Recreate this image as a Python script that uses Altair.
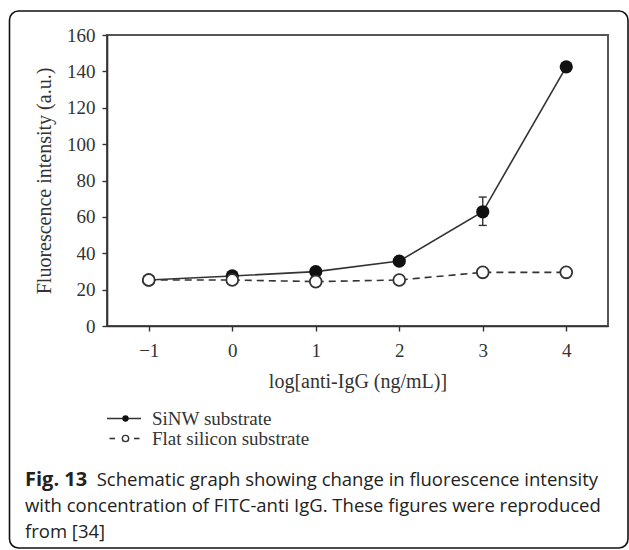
import altair as alt
import pandas as pd

# ---- data ----
x_vals = [-1, 0, 1, 2, 3, 4]
sinw_vals = [25.3, 27.5, 29.9, 35.7, 62.8, 142.5]
flat_vals = [25.3, 25.3, 24.4, 25.3, 29.5, 29.5]
err_x = [3]
err_low = [55.3]
err_high = [70.9]
y_ticks = [0, 20, 40, 60, 80, 100, 120, 140, 160]
x_ticks = [-1, 0, 1, 2, 3, 4]
legend_labels = ["SiNW substrate", "Flat silicon substrate"]
caption_bold = "Fig. 13"
caption_lines = [
    "Schematic graph showing change in fluorescence intensity",
    "with concentration of FITC-anti IgG. These figures were reproduced",
    "from [34]",
]

SERIF = "Liberation Serif"
SANS = "Open Sans"
INK = "#333333"

sinw = pd.DataFrame({"x": x_vals, "y": sinw_vals})
flat = pd.DataFrame({"x": x_vals, "y": flat_vals})
err = pd.DataFrame({"x": err_x, "y": err_low, "hi": err_high})
err_top = pd.DataFrame({"x": err_x, "y": err_high})

xscale = alt.Scale(domain=[-1.5, 4.5], nice=False, zero=False)
yscale = alt.Scale(domain=[0, 160], nice=False)
xaxis = alt.Axis(values=x_ticks, format="d", title="log[anti-IgG (ng/mL)]",
                 labelPadding=10, titlePadding=11, labelOverlap=False)
yaxis = alt.Axis(values=y_ticks, title="Fluorescence intensity (a.u.)",
                 labelPadding=7, titlePadding=12, labelOverlap=False)

X = alt.X("x:Q", scale=xscale, axis=xaxis)
Y = alt.Y("y:Q", scale=yscale, axis=yaxis)

one = pd.DataFrame({"k": [0]})

border = alt.Chart(one).mark_rect(
    fillOpacity=0, stroke="#111111", strokeWidth=1.6, cornerRadius=9
).encode(x=alt.value(-97.5), x2=alt.value(521), y=alt.value(-24), y2=alt.value(513))

sinw_line = alt.Chart(sinw).mark_line(color=INK, strokeWidth=1.6).encode(x=X, y=Y)
sinw_pts = alt.Chart(sinw).mark_point(
    filled=True, shape="circle", size=175, color="#111111", opacity=1
).encode(x=X, y=Y)

err_rule = alt.Chart(err).mark_rule(color=INK, strokeWidth=1.4).encode(x=X, y=Y, y2="hi:Q")
cap_lo = alt.Chart(err).mark_rule(color=INK, strokeWidth=1.4, xOffset=-4, x2Offset=4).encode(
    x=X, x2="x:Q", y=Y)
cap_hi = alt.Chart(err_top).mark_rule(color=INK, strokeWidth=1.4, xOffset=-4, x2Offset=4).encode(
    x=X, x2="x:Q", y=Y)

flat_line = alt.Chart(flat).mark_line(color=INK, strokeWidth=1.6, strokeDash=[7, 5]).encode(x=X, y=Y)
flat_pts = alt.Chart(flat).mark_point(
    filled=False, shape="circle", size=140, fill="white", fillOpacity=1,
    stroke=INK, strokeWidth=1.8, opacity=1
).encode(x=X, y=Y)

# ---- legend (drawn below the plot) ----
r1, r2 = 383.5, 403.5
leg1_line = alt.Chart(one).mark_rule(color=INK, strokeWidth=1.6).encode(
    x=alt.value(0), x2=alt.value(34), y=alt.value(r1))
leg1_dot = alt.Chart(one).mark_point(filled=True, shape="circle", size=40, color="#111111", opacity=1).encode(
    x=alt.value(18.5), y=alt.value(r1))
leg2_dash_a = alt.Chart(one).mark_rule(color=INK, strokeWidth=1.6).encode(
    x=alt.value(2.5), x2=alt.value(8), y=alt.value(r2))
leg2_dash_b = alt.Chart(one).mark_rule(color=INK, strokeWidth=1.6).encode(
    x=alt.value(27), x2=alt.value(32.5), y=alt.value(r2))
leg2_dot = alt.Chart(one).mark_point(filled=False, shape="circle", size=40, fill="white", fillOpacity=1,
                                     stroke=INK, strokeWidth=1.4, opacity=1).encode(
    x=alt.value(18.5), y=alt.value(r2))
leg_text1 = alt.Chart(one).mark_text(
    text=legend_labels[0], font=SERIF, fontSize=19, color=INK, align="left", baseline="middle"
).encode(x=alt.value(45), y=alt.value(r1 + 0.5))
leg_text2 = alt.Chart(one).mark_text(
    text=legend_labels[1], font=SERIF, fontSize=19, color=INK, align="left", baseline="middle"
).encode(x=alt.value(45), y=alt.value(r2 + 0.5))

# ---- caption ----
cap_b = alt.Chart(one).mark_text(
    text=caption_bold, font=SANS, fontSize=20, fontWeight="bold", color="#222222",
    align="left", baseline="alphabetic"
).encode(x=alt.value(-82), y=alt.value(451))
cap1 = alt.Chart(one).mark_text(
    text=caption_lines[0], font=SANS, fontSize=18.5, color="#222222", align="left", baseline="alphabetic"
).encode(x=alt.value(-10.3), y=alt.value(451))
cap2 = alt.Chart(one).mark_text(
    text=caption_lines[1], font=SANS, fontSize=18.5, color="#222222", align="left", baseline="alphabetic"
).encode(x=alt.value(-82), y=alt.value(477))
cap3 = alt.Chart(one).mark_text(
    text=caption_lines[2], font=SANS, fontSize=18.5, color="#222222", align="left", baseline="alphabetic"
).encode(x=alt.value(-82), y=alt.value(503))

chart = alt.layer(
    border, sinw_line, err_rule, cap_lo, cap_hi, sinw_pts, flat_line, flat_pts,
    leg1_line, leg1_dot, leg2_dash_a, leg2_dash_b, leg2_dot, leg_text1, leg_text2,
    cap_b, cap1, cap2, cap3
).properties(
    width=501, height=291,
    autosize=alt.AutoSizeParams(type="none"),
    padding={"left": 107, "top": 35, "right": 21, "bottom": 224},
    background="white",
).configure_view(
    stroke="#555555", strokeWidth=2
).configure_axis(
    grid=False,
    domainColor=INK, domainWidth=1.6,
    tickColor=INK, tickSize=5, tickWidth=1.4,
    labelFont=SERIF, labelFontSize=19, labelColor=INK,
    titleFont=SERIF, titleFontSize=20, titleFontWeight="normal", titleColor=INK,
)

chart.save("out.html", embed_options={"renderer": "svg", "actions": False})
